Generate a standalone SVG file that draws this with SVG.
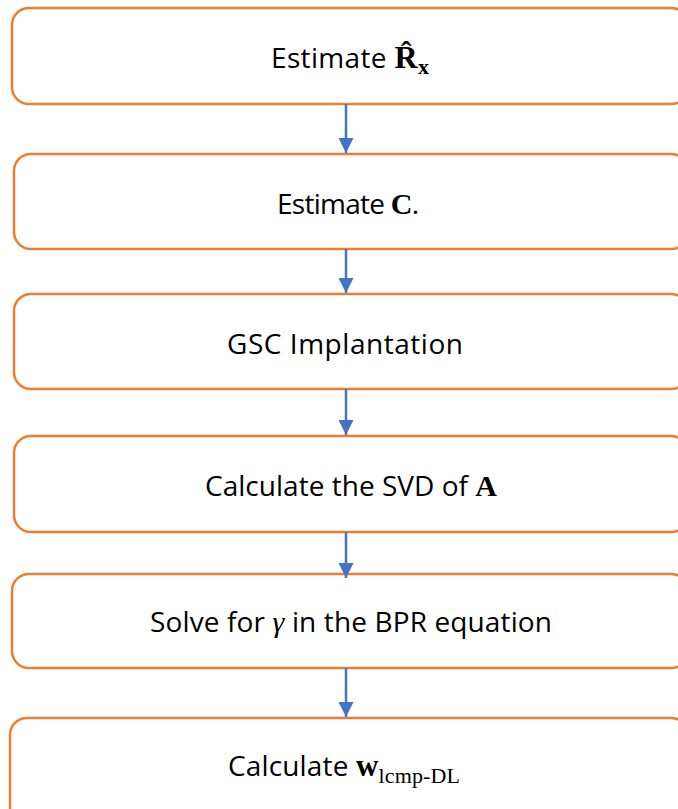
<svg xmlns="http://www.w3.org/2000/svg" width="678" height="809" viewBox="0 0 678 809">
<style>
.box{fill:#fff;stroke:#ED7D31;stroke-width:2.5}
.lbl{font-family:"Open Sans","Liberation Sans",sans-serif;font-size:28px;fill:#000;text-anchor:middle}
.m{font-family:"Liberation Serif","DejaVu Serif",serif;font-weight:bold}
.it{font-family:"Liberation Serif","DejaVu Serif",serif;font-style:italic}
.sub{font-family:"Liberation Serif","DejaVu Serif",serif;font-size:22px}
.conn line{stroke:#4472C4;stroke-width:2.5}
</style>
<defs>
<marker id="ah" viewBox="0 0 10 10" refX="10" refY="5" markerWidth="6" markerHeight="6" orient="auto" markerUnits="strokeWidth">
<path d="M0,0 L10,5 L0,10 Z" fill="#4472C4"/>
</marker>
</defs>
<rect width="678" height="809" fill="#fff"/>
<g id="n1"><rect class="box" x="12" y="8" width="676" height="96" rx="17"/>
<text class="lbl" x="350" y="68" textLength="158" lengthAdjust="spacing">Estimate <tspan class="m" font-size="32">R̂</tspan><tspan class="m" font-size="22" dy="6">x</tspan></text></g>
<g id="n2"><rect class="box" x="14" y="154" width="674" height="95" rx="17"/>
<text class="lbl" x="348" y="214" textLength="142" lengthAdjust="spacing">Estimate <tspan class="m" font-size="30">C</tspan>.</text></g>
<g id="n3"><rect class="box" x="14" y="294" width="674" height="95" rx="17"/>
<text class="lbl" x="345" y="354" textLength="236" lengthAdjust="spacing">GSC Implantation</text></g>
<g id="n4"><rect class="box" x="14" y="436" width="674" height="96" rx="17"/>
<text class="lbl" x="351" y="496" textLength="292" lengthAdjust="spacing">Calculate the SVD of <tspan class="m" font-size="30">A</tspan></text></g>
<g id="n5"><rect class="box" x="12" y="574" width="676" height="94" rx="17"/>
<text class="lbl" x="351" y="632" textLength="402" lengthAdjust="spacing">Solve for <tspan class="it" font-size="30">γ</tspan> in the BPR equation</text></g>
<g id="n6"><rect class="box" x="10" y="718" width="678" height="110" rx="17"/>
<text class="lbl" x="344" y="776" textLength="232" lengthAdjust="spacing">Calculate <tspan class="m" font-size="31">w</tspan><tspan class="sub" dy="7">lcmp-DL</tspan></text></g>
<g class="conn">
<line x1="346" y1="104" x2="346" y2="153" marker-end="url(#ah)"/>
<line x1="346" y1="249" x2="346" y2="293" marker-end="url(#ah)"/>
<line x1="346" y1="389" x2="346" y2="435" marker-end="url(#ah)"/>
<line x1="346" y1="532" x2="346" y2="578" marker-end="url(#ah)"/>
<line x1="346" y1="668" x2="346" y2="717" marker-end="url(#ah)"/>
</g>
</svg>
